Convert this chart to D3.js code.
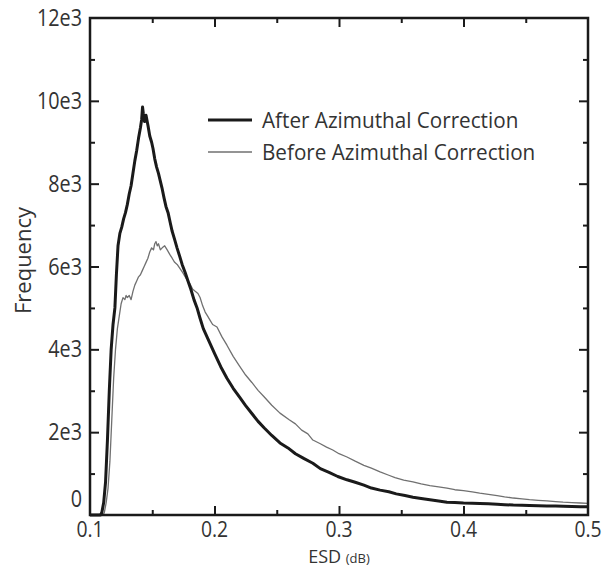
<!DOCTYPE html>
<html><head><meta charset="utf-8">
<script src="https://cdn.jsdelivr.net/npm/d3@7"></script>
<style>
body{margin:0;background:#fff;}
text{font-family:"Open Sans","Noto Sans",sans-serif;fill:#333;}
</style></head>
<body><svg id="c" width="612" height="569"></svg>
<script>
// ---- data ----
const afterX = [0.100,0.1085,0.1095,0.1110,0.1125,0.1140,0.1155,0.1170,0.1185,0.1200,0.1212,0.1225,0.1240,0.1255,0.1270,0.1285,0.1300,0.1315,0.1330,0.1345,0.1360,0.1375,0.1390,0.1405,0.1415,0.1422,0.1428,0.1438,0.1450,0.1466,0.1480,0.1495,0.1506,0.1520,0.1535,0.1550,0.1562,0.1578,0.1595,0.1610,0.1627,0.1645,0.1660,0.1680,0.1699,0.1720,0.1740,0.1765,0.1787,0.1810,0.1835,0.1860,0.1884,0.1910,0.1940,0.1970,0.2000,0.2050,0.2100,0.2150,0.2200,0.2250,0.2300,0.2350,0.2400,0.2460,0.2526,0.2590,0.2650,0.2720,0.2790,0.2850,0.2920,0.2990,0.3064,0.3130,0.3200,0.3260,0.3330,0.3400,0.3460,0.3530,0.3594,0.3660,0.3730,0.3800,0.3867,0.3930,0.4000,0.4070,0.4130,0.4200,0.4270,0.4330,0.4400,0.4470,0.4530,0.4600,0.4670,0.4740,0.4800,0.4870,0.4940,0.5000];
const afterY = [0,0,60,300,800,1800,3000,4000,4600,5000,5800,6500,6800,6950,7150,7300,7500,7750,7950,8250,8550,8800,9100,9350,9550,9850,9700,9500,9650,9400,9150,9000,8850,8600,8400,8250,8100,7900,7650,7450,7300,7050,6850,6650,6450,6250,6050,5850,5650,5450,5200,5000,4750,4500,4300,4100,3900,3580,3300,3060,2850,2640,2450,2260,2100,1920,1740,1620,1480,1360,1250,1120,1030,930,850,790,720,650,600,560,510,470,430,400,370,340,310,300,290,285,280,270,260,250,240,235,230,225,220,215,210,205,200,200];
const beforeX = [0.100,0.1105,0.1115,0.1130,0.1145,0.1160,0.1175,0.1190,0.1205,0.1220,0.1235,0.1250,0.1265,0.1280,0.1290,0.1300,0.1315,0.1330,0.1345,0.1360,0.1375,0.1390,0.1405,0.1420,0.1435,0.1450,0.1465,0.1480,0.1495,0.1510,0.1520,0.1530,0.1540,0.1550,0.1565,0.1580,0.1600,0.1620,0.1643,0.1660,0.1680,0.1700,0.1723,0.1745,0.1765,0.1785,0.1803,0.1825,0.1845,0.1867,0.1884,0.1905,0.1925,0.1945,0.1965,0.1985,0.2020,0.2060,0.2100,0.2150,0.2200,0.2250,0.2300,0.2350,0.2400,0.2460,0.2526,0.2600,0.2650,0.2700,0.2750,0.2790,0.2850,0.2900,0.2950,0.3000,0.3064,0.3130,0.3200,0.3260,0.3330,0.3400,0.3450,0.3520,0.3594,0.3660,0.3730,0.3800,0.3867,0.3930,0.4000,0.4070,0.4130,0.4200,0.4270,0.4330,0.4400,0.4470,0.4530,0.4600,0.4670,0.4740,0.4800,0.4870,0.4940,0.5000];
const beforeY = [0,0,60,300,650,1300,2300,3300,4000,4500,4800,5100,5250,5200,5300,5250,5300,5200,5400,5550,5650,5750,5800,5900,6000,6100,6200,6350,6450,6400,6550,6600,6500,6550,6400,6450,6500,6400,6280,6200,6100,6050,5950,5850,5750,5650,5580,5450,5400,5350,5250,5050,4900,4800,4700,4600,4540,4300,4100,3830,3600,3380,3200,3010,2850,2650,2460,2300,2200,2050,1960,1810,1720,1640,1570,1480,1400,1300,1200,1130,1040,960,900,840,800,750,710,680,650,610,590,560,530,500,470,440,410,390,370,355,340,325,310,300,290,280];
const xTicks = [0.1,0.2,0.3,0.4,0.5];
const xMinor = [0.15,0.25,0.35,0.45];
const yTicks = [0,2000,4000,6000,8000,10000,12000];
const yTickLabels = ["0","2e3","4e3","6e3","8e3","10e3","12e3"];
const yMinor = [1000,3000,5000,7000,9000,11000];
const seriesNames = ["After Azimuthal Correction","Before Azimuthal Correction"];

// ---- layout ----
const L=90,R=588,T=18,B=515;
const svg=d3.select("#c");
const x=d3.scaleLinear().domain([0.1,0.5]).range([L,R]);
const y=d3.scaleLinear().domain([0,12000]).range([B,T]);

// lines
const line=d3.line().x(d=>x(d[0])).y(d=>y(d[1]));
const before=d3.zip(beforeX,beforeY), after=d3.zip(afterX,afterY);
svg.append("path").datum(before).attr("d",line).attr("fill","none")
  .attr("stroke","#707070").attr("stroke-width",1.3).attr("stroke-linejoin","round");
svg.append("path").datum(after).attr("d",line).attr("fill","none")
  .attr("stroke","#1a1a1a").attr("stroke-width",3).attr("stroke-linejoin","round");

// axes (inward ticks)
function ax(gen,tr){const g=svg.append("g").attr("transform",tr).call(gen);
  g.selectAll("line").attr("stroke","#1a1a1a").attr("stroke-width",2);
  g.select(".domain").remove(); g.selectAll("text").remove(); return g;}
ax(d3.axisBottom(x).tickValues(xTicks.slice(1,-1)).tickSize(-9),`translate(0,${B})`);
ax(d3.axisBottom(x).tickValues(xMinor).tickSize(-5),`translate(0,${B})`);
ax(d3.axisTop(x).tickValues(xTicks.slice(1,-1)).tickSize(-9),`translate(0,${T})`);
ax(d3.axisTop(x).tickValues(xMinor).tickSize(-5),`translate(0,${T})`);
ax(d3.axisLeft(y).tickValues(yTicks.slice(1,-1)).tickSize(-9),`translate(${L},0)`);
ax(d3.axisLeft(y).tickValues(yMinor).tickSize(-5),`translate(${L},0)`);
ax(d3.axisRight(y).tickValues(yTicks.slice(1,-1)).tickSize(-9),`translate(${R},0)`);
ax(d3.axisRight(y).tickValues(yMinor).tickSize(-5),`translate(${R},0)`);

svg.append("rect").attr("x",L).attr("y",T).attr("width",R-L).attr("height",B-T)
  .attr("fill","none").attr("stroke","#1a1a1a").attr("stroke-width",2.5);

// tick labels (slightly condensed to mimic the original typeface)
svg.selectAll(".xl").data(xTicks).join("text").attr("class","xl")
  .attr("transform",d=>`translate(${x(d)},${B+22}) scale(0.88,1)`).attr("text-anchor","middle")
  .attr("font-size",22).text(d=>d3.format(".1f")(d));
svg.selectAll(".yl").data(yTicks).join("text").attr("class","yl")
  .attr("transform",(d,i)=>`translate(${L-8},${y(d)+(i===0?-8:8)}) scale(0.86,1)`).attr("text-anchor","end")
  .attr("font-size",23).text((d,i)=>yTickLabels[i]);

// axis titles
const xt=svg.append("text").attr("x",(L+R)/2).attr("y",563).attr("text-anchor","middle").attr("font-size",18);
xt.append("tspan").text("ESD ");
xt.append("tspan").attr("font-size",13).text("(dB)");
svg.append("text").attr("transform",`translate(31,${(T+B)/2-6}) rotate(-90)`)
  .attr("text-anchor","middle").attr("font-size",22).text("Frequency");

// legend
const lg=svg.append("g");
const ly=[120,152], lw=[3,1.3], lc=["#1a1a1a","#707070"];
seriesNames.forEach((n,i)=>{
  lg.append("line").attr("x1",208).attr("x2",252).attr("y1",ly[i]).attr("y2",ly[i])
    .attr("stroke",lc[i]).attr("stroke-width",lw[i]);
  lg.append("text").attr("transform",`translate(262,${ly[i]+8}) scale(0.94,1)`).attr("font-size",22).text(n);
});
</script></body></html>
